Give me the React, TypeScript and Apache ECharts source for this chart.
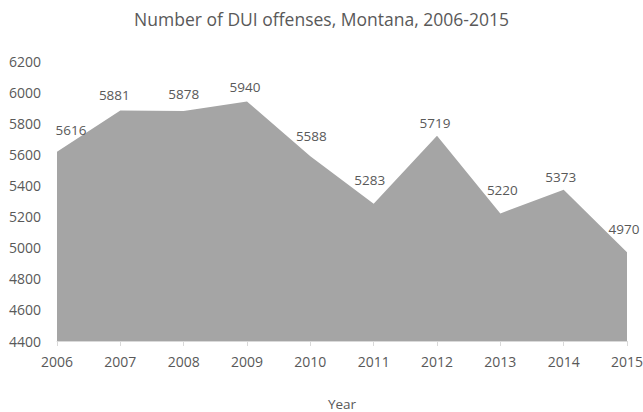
import React, { useEffect, useRef } from "react";
import * as echarts from "echarts";

const years = ["2006", "2007", "2008", "2009", "2010", "2011", "2012", "2013", "2014", "2015"];
const offenses = [5616, 5881, 5878, 5940, 5588, 5283, 5719, 5220, 5373, 4970];
// label placement tweaks (px): horizontal shift, lift above point
const labelDx = [14, -6, 0, -2, 1, -4, -2, 2, -3, -3];
const labelLift = [23, 17, 18, 15, 21, 25, 14, 24, 14, 24];

const TEXT = "#595959";
const FONT = "'Open Sans', 'Noto Sans', sans-serif";

export default function App() {
  const ref = useRef<HTMLDivElement>(null);
  useEffect(() => {
    document.body.style.margin = "0";
    if (!ref.current) return;
    const chart = echarts.init(ref.current, undefined, { renderer: "svg" });
    chart.setOption({
      animation: false,
      backgroundColor: "#ffffff",
      textStyle: { fontFamily: FONT },
      title: {
        text: "Number of DUI offenses, Montana, 2006-2015",
        left: "center",
        top: 5,
        textStyle: { fontFamily: FONT, fontSize: 17.5, fontWeight: "normal", color: TEXT },
      },
      grid: {
        left: 57,
        right: 16,
        top: 61,
        bottom: 71,
        containLabel: false,
        outerBoundsMode: "none",
      },
      xAxis: {
        type: "category",
        data: years,
        boundaryGap: false,
        name: "Year",
        nameLocation: "middle",
        nameGap: 56,
        nameTextStyle: { fontFamily: FONT, fontSize: 13.5, color: TEXT },
        axisLine: { show: true, lineStyle: { color: "#d9d9d9", width: 1 } },
        axisTick: { show: true, length: 5, lineStyle: { color: "#d9d9d9" } },
        axisLabel: { color: TEXT, fontFamily: FONT, fontSize: 14, margin: 13 },
        splitLine: { show: false },
      },
      yAxis: {
        type: "value",
        min: 4400,
        max: 6200,
        interval: 200,
        axisLine: { show: false },
        axisTick: { show: false },
        splitLine: { show: false },
        axisLabel: {
          color: TEXT,
          fontFamily: FONT,
          fontSize: 14,
          margin: 16,
          formatter: (v: number) => String(v),
        },
      },
      series: [
        {
          type: "line",
          data: offenses.map((v, i) => ({
            value: v,
            label: { offset: [labelDx[i], -(labelLift[i] - 8)] },
          })),
          showSymbol: true,
          symbol: "circle",
          symbolSize: 0,
          lineStyle: { width: 0, color: "#a5a5a5" },
          areaStyle: { color: "#a5a5a5", opacity: 1 },
          itemStyle: { color: "#a5a5a5" },
          label: {
            show: true,
            position: "top",
            distance: 0,
            color: TEXT,
            fontFamily: FONT,
            fontSize: 13.5,
          },
        },
      ],
    });
    return () => chart.dispose();
  }, []);
  return <div ref={ref} style={{ width: 643, height: 412 }} />;
}
